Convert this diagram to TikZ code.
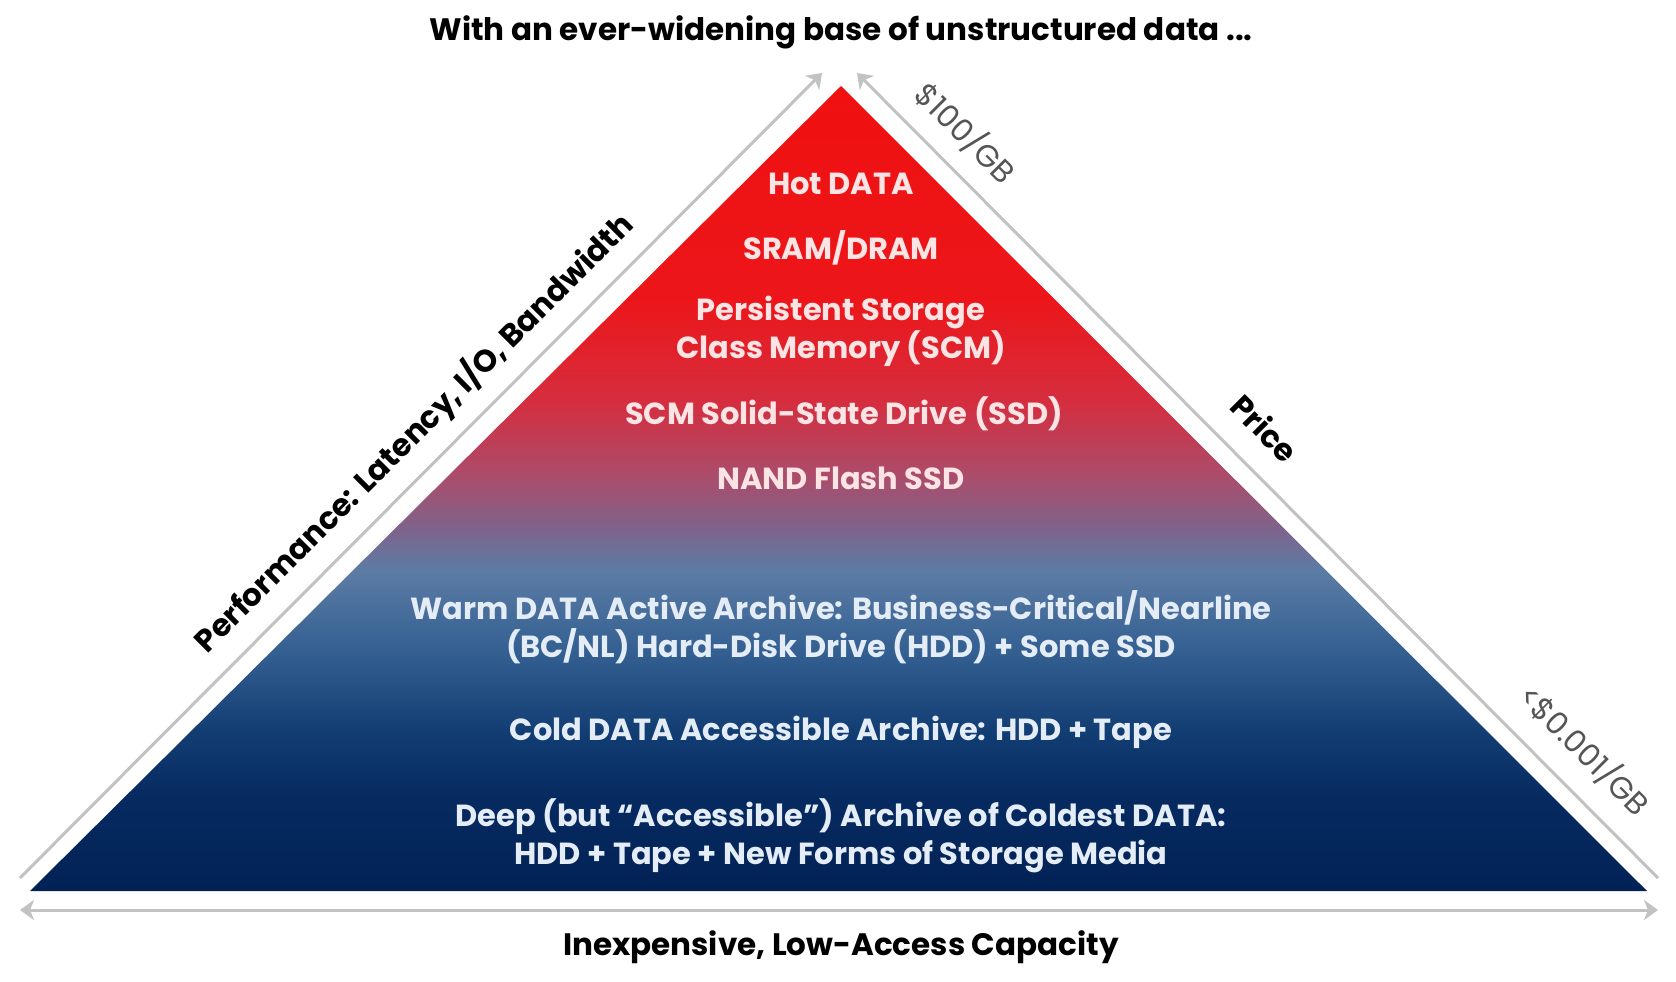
\documentclass[tikz,border=0pt]{standalone}
\usepackage{fontspec}
\setmainfont{Poppins}
\usetikzlibrary{arrows.meta}
\definecolor{axisgrey}{RGB}{194,194,194}
\definecolor{labgrey}{RGB}{85,85,85}
\definecolor{txtred}{RGB}{252,228,228}
\definecolor{txtblue}{RGB}{228,236,246}
\definecolor{s25}{RGB}{2,34,86}
\definecolor{s31}{RGB}{6,42,96}
\definecolor{s35}{RGB}{18,62,116}
\definecolor{s40}{RGB}{52,96,146}
\definecolor{s45}{RGB}{92,124,165}
\definecolor{s47}{RGB}{125,100,140}
\definecolor{s50}{RGB}{168,78,110}
\definecolor{s55}{RGB}{214,45,62}
\definecolor{s62}{RGB}{236,22,26}
\definecolor{s75}{RGB}{240,16,16}
\pgfdeclareverticalshading{pyramid}{100bp}{color(0bp)=(s25); color(25bp)=(s25); color(30.7bp)=(s31); color(35bp)=(s35); color(40bp)=(s40); color(44.9bp)=(s45); color(47.4bp)=(s47); color(50.5bp)=(s50); color(55.5bp)=(s55); color(61.7bp)=(s62); color(75bp)=(s75); color(100bp)=(s75)}
\tikzset{
  axisline/.style={draw=axisgrey, line width=3pt},
  axishead/.style={-{Stealth[length=14pt,width=20pt,inset=4pt]}},
  inner/.style={font=\fontsize{30.5}{37.5}\selectfont\bfseries, align=center, inner sep=0pt},
  redtxt/.style={inner, text=txtred},
  bluetxt/.style={inner, text=txtblue},
  axislabel/.style={font=\fontsize{31}{36}\selectfont\bfseries, text=black, inner sep=0pt},
  pricelabel/.style={font=\fontsize{31}{36}\selectfont, text=labgrey, inner sep=0pt},
}
\begin{document}
\begin{tikzpicture}[x=1pt,y=-1pt]
\useasboundingbox (0,0) rectangle (1676,982);
\fill[white] (0,0) rectangle (1676,982);
% pyramid corners
\coordinate (apex) at (841,86);
\coordinate (bl) at (30,891);
\coordinate (br) at (1647,891);
\shade[shading=pyramid] (apex) -- (br) -- (bl) -- cycle;
% axes
\coordinate (la0) at (20,878);
\coordinate (la1) at (822,73);
\coordinate (ra0) at (1658,878);
\coordinate (ra1) at (857,73);
\coordinate (ba0) at (20,910);
\coordinate (ba1) at (1658,910);
\draw[axisline, axishead] (la0) -- (la1);
\draw[axisline, axishead] (ra0) -- (ra1);
\draw[axisline, {Stealth[length=14pt,width=20pt,inset=4pt]}-{Stealth[length=14pt,width=20pt,inset=4pt]}] (ba0) -- (ba1);
% titles
\node[axislabel] (title) at (841,32) {With an ever-widening base of unstructured data ...};
\node[axislabel] (bottom) at (841,947) {Inexpensive, Low-Access Capacity};
\node[axislabel, rotate=45] (perf) at (414,433) {Performance: Latency, I/O, Bandwidth};
\node[axislabel, rotate=-45] (price) at (1265,428) {Price};
\node[pricelabel, rotate=-45] (hi) at (966,133) {\$100/GB};
\node[pricelabel, rotate=-45] (lo) at (1585,750) {<\$0.001/GB};
% tiers
\node[redtxt] (hot) at (841,184) {Hot DATA};
\node[redtxt] (sram) at (841,248) {SRAM/DRAM};
\node[redtxt] (pscm) at (841,331.5) {Persistent Storage\\Class Memory (SCM)};
\node[redtxt] (ssd) at (844,414) {SCM Solid-State Drive (SSD)};
\node[redtxt] (nand) at (841,478) {NAND Flash SSD};
\node[bluetxt] (warm) at (841,627) {Warm DATA Active Archive: Business-Critical/Nearline\\(BC/NL) Hard-Disk Drive (HDD) + Some SSD};
\node[bluetxt] (cold) at (841,732) {Cold DATA Accessible Archive: HDD + Tape};
\node[bluetxt] (deep) at (841,836) {Deep (but “Accessible”) Archive of Coldest DATA:\\HDD + Tape + New Forms of Storage Media};
\end{tikzpicture}
\end{document}
